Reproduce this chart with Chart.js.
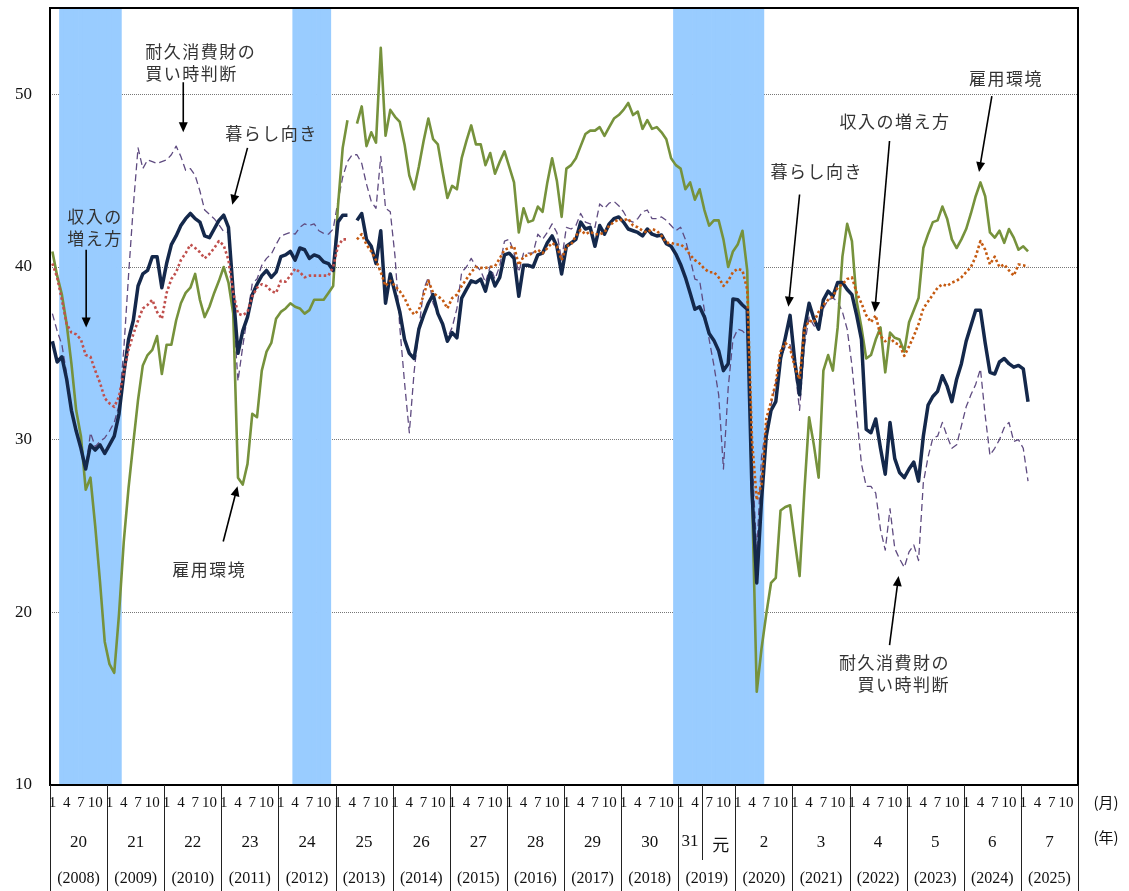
<!DOCTYPE html>
<html lang="ja">
<head>
<meta charset="utf-8">
<title>消費者意識指標の推移</title>
<script src="https://cdn.jsdelivr.net/npm/chart.js@4.4.1/dist/chart.umd.min.js"></script>
<style>
  html, body { margin: 0; padding: 0; background: #fff; }
  #wrap { width: 1129px; height: 891px; }
</style>
</head>
<body>
<div id="wrap"><canvas id="lineChart"></canvas></div>
<script>
// ---- data ----
const years = [2008, 2009, 2010, 2011, 2012, 2013, 2014, 2015, 2016, 2017, 2018, 2019, 2020, 2021, 2022, 2023, 2024, 2025];
const months = [];
years.forEach(y => { for (let m = 1; m <= 12; m++) months.push(y + '-' + m); });

// recession periods (shaded)
const recessions = [['2008-3', '2009-3'], ['2012-4', '2012-11'], ['2018-12', '2020-6']];

// 暮らし向き
const kurashi = [
  35.7, 34.5, 34.8, 33.5, 31.7, 30.5, 29.5, 28.3, 29.7, 29.4, 29.7, 29.2,
  29.7, 30.2, 31.5, 33.8, 35.8, 36.9, 38.9, 39.6, 39.8, 40.6, 40.6, 38.8,
  40.2, 41.3, 41.8, 42.4, 42.8, 43.1, 42.8, 42.6, 41.8, 41.7, 42.2, 42.7,
  43.0, 42.3, 38.5, 35.0, 36.3, 37.1, 38.4, 39.0, 39.5, 39.8, 39.4, 39.7,
  40.6, 40.7, 40.9, 40.4, 41.1, 41.0, 40.5, 40.7, 40.6, 40.3, 40.2, 39.8,
  42.6, 43.0, 43.0, null, 42.7, 43.1, 41.6, 41.2, 40.2, 42.1, 37.9, 39.6,
  38.5, 37.4, 35.8, 35.0, 34.7, 36.4, 37.2, 37.9, 38.4, 37.3, 36.7, 35.7,
  36.2, 35.9, 38.2, 38.7, 39.2, 39.1, 39.3, 38.6, 39.7, 38.9, 39.4, 40.7,
  40.8, 40.5, 38.3, 40.1, 40.1, 40.0, 40.7, 40.8, 41.4, 41.8, 41.2, 39.6,
  41.2, 41.4, 41.6, 42.6, 42.2, 42.3, 41.2, 42.4, 41.9, 42.5, 42.8, 42.9,
  42.6, 42.2, 42.1, 42.0, 41.8, 42.2, 41.9, 41.8, 41.85, 41.35, 41.2, 40.75,
  40.15, 39.4, 38.5, 37.55, 37.7, 37.1, 36.15, 35.75, 35.15, 34.0, 34.4, 38.15,
  38.1, 37.8, 37.55, 27.0, 21.7, 26.5, 30.2, 31.7, 32.2, 34.7, 35.9, 37.2,
  34.5, 32.6, 36.4, 37.9, 37.0, 36.4, 38.1, 38.6, 38.3, 39.1, 39.1, 38.7,
  38.4, 37.2, 35.8, 30.6, 30.4, 31.2, 29.5, 28.0, 31.0, 28.9, 28.1, 27.8,
  28.3, 28.7, 27.6, 30.2, 32.0, 32.5, 32.8, 33.7, 33.1, 32.2, 33.5, 34.4,
  35.7, 36.6, 37.5, 37.5, 35.6, 33.9, 33.8, 34.5, 34.7, 34.4, 34.2, 34.3,
  34.1, 32.2
];

// 収入の増え方
const shunyu = [
  40.2, 39.4, 38.1, 36.7, 36.2, 36.1, 35.8, 34.9, 34.8, 34.0, 33.3, 32.4,
  32.1, 31.9, 32.5, 33.9, 35.2, 36.1, 36.9, 37.6, 37.8, 38.1, 37.4, 37.0,
  38.5, 39.3, 39.7, 40.4, 40.8, 41.3, 41.1, 40.85, 40.5, 40.75, 41.1, 41.5,
  41.25, 40.4, 38.5, 37.3, 37.2, 37.4, 38.3, 38.8, 39.0, 38.9, 38.6, 38.5,
  39.2, 39.15, 39.5, 39.9, 39.7, 39.4, 39.5, 39.5, 39.5, 39.5, 39.5, 40.0,
  41.2, 41.6, 41.6, null, 41.6, 41.9, 41.3, 40.9, 40.4, 39.7, 38.9, 39.2,
  38.9, 38.6, 38.2, 37.6, 37.25, 37.5, 38.4, 39.2, 38.5, 38.3, 38.1, 37.6,
  38.2, 38.4, 38.9, 39.3, 39.7, 40.0, 39.95, 39.95, 40.0, 40.05, 40.5, 41.0,
  41.1, 41.2, 40.1, 40.6, 40.7, 40.8, 41.0, 40.8, 41.1, 41.4, 41.2, 40.4,
  41.2, 41.3, 41.8, 42.15, 41.9, 42.05, 41.9, 41.9, 42.0, 42.4, 42.6, 42.75,
  42.7, 42.8, 42.4, 42.3, 42.1, 42.0, 42.2, 42.1, 41.8, 41.4, 41.4, 41.3,
  41.3, 41.1, 40.7, 40.4, 40.2, 39.9, 39.7, 39.7, 39.4, 38.9, 39.2, 39.7,
  39.9, 39.8, 38.7, 30.0, 26.5, 27.4, 31.2, 32.2, 33.3, 35.1, 35.6, 35.3,
  34.2, 33.5, 36.4, 36.9, 36.8, 37.4, 37.8, 38.1, 38.3, 38.8, 39.0, 39.3,
  39.4, 38.5, 37.9, 37.2, 36.8, 37.2, 36.0, 35.7, 35.9, 35.6, 35.5, 34.85,
  35.4, 36.0, 36.7, 37.6, 38.0, 38.4, 38.8, 39.0, 38.9, 39.1, 39.2, 39.4,
  39.7, 40.0, 40.6, 41.5, 41.0, 40.15, 40.6, 40.0, 40.15, 39.8, 39.5, 40.15,
  40.1, 40.0
];

// 雇用環境
const koyou = [
  40.9, 39.5, 38.4, 36.7, 34.4, 31.7, 30.2, 27.1, 27.8, 25.0, 21.8, 18.3,
  17.0, 16.5, 19.9, 24.1, 27.2, 29.8, 32.3, 34.3, 34.9, 35.2, 36.0, 33.8,
  35.5, 35.5, 36.9, 37.9, 38.5, 38.8, 39.6, 38.1, 37.1, 37.7, 38.5, 39.2,
  40.0, 39.1, 37.3, 27.8, 27.4, 28.6, 31.5, 31.3, 34.0, 35.1, 35.6, 37.0,
  37.4, 37.6, 37.9, 37.7, 37.6, 37.3, 37.5, 38.1, 38.1, 38.1, 38.5, 38.9,
  43.5, 46.9, 48.5, null, 48.3, 49.3, 47.0, 47.8, 47.2, 52.7, 47.6, 49.1,
  48.7, 48.4, 47.1, 45.3, 44.5, 45.8, 47.3, 48.6, 47.4, 47.1, 45.5, 44.0,
  44.7, 44.5, 46.3, 47.3, 48.2, 47.1, 47.1, 45.9, 46.6, 45.4, 46.1, 46.7,
  45.8, 44.9, 42.0, 43.4, 42.6, 42.7, 43.5, 43.2, 44.9, 46.3, 45.0, 42.9,
  45.7, 45.9, 46.3, 47.0, 47.7, 47.9, 47.9, 48.1, 47.6, 48.1, 48.6, 48.8,
  49.1, 49.5, 48.8, 49.0, 48.0, 48.5, 48.0, 48.1, 47.8, 47.4, 46.3, 45.9,
  45.7, 44.5, 44.9, 43.9, 44.5, 43.3, 42.4, 42.7, 42.7, 41.6, 40.0, 40.9,
  41.3, 42.1, 39.8, 27.0, 15.4, 17.9, 19.9, 21.7, 22.0, 25.9, 26.1, 26.2,
  24.1, 22.1, 27.0, 31.3, 29.7, 27.8, 34.0, 34.9, 34.0, 36.5, 40.6, 42.5,
  41.5, 38.0, 36.5, 34.7, 34.9, 35.8, 36.5, 33.9, 36.2, 35.9, 35.8, 35.1,
  36.8, 37.5, 38.2, 41.1, 41.9, 42.6, 42.7, 43.5, 42.8, 41.6, 41.1, 41.6,
  42.2, 43.1, 44.1, 44.9, 44.1, 42.0, 41.7, 42.1, 41.4, 42.2, 41.7, 41.0,
  41.2, 40.9
];

// 耐久消費財の買い時判断
const taikyu = [
  37.3, 36.3, 35.5, 33.8, 31.8, 30.5, 29.5, 28.3, 30.4, 29.6, 29.9, 30.1,
  30.5, 31.0, 32.0, 35.2, 39.5, 43.5, 46.9, 45.7, 46.2, 46.1, 46.0, 46.1,
  46.2, 46.5, 47.0, 46.4, 45.6, 45.7, 45.3, 44.4, 43.3, 43.05, 42.8, 42.45,
  42.05, 42.0, 37.5, 33.4, 35.4, 37.2, 39.05, 39.3, 40.1, 40.5, 40.75, 41.3,
  41.8, 41.9, 42.0, 41.9, 42.3, 42.5, 42.4, 42.5, 42.1, 41.95, 41.9, 42.2,
  43.8, 45.2, 46.1, 46.5, 46.5, 46.0, 44.8, 43.8, 43.4, 46.4, 43.4, 43.2,
  40.6, 36.5, 33.3, 30.4, 33.9, 36.4, 38.7, 39.4, 37.9, 37.3, 36.7, 35.9,
  36.5, 37.6, 39.7, 40.0, 40.5, 40.05, 39.8, 39.1, 40.05, 39.3, 40.05, 41.5,
  41.6, 40.8, 39.7, 40.8, 40.8, 40.8, 41.9, 41.6, 42.0, 42.5, 42.0, 40.4,
  42.3, 42.2, 42.4, 43.1, 42.6, 42.5, 42.3, 43.65, 43.4, 43.7, 43.8, 43.55,
  43.2, 42.7, 42.6, 42.8, 43.2, 43.3, 42.8, 42.8, 42.9, 42.7, 42.4, 42.1,
  42.3, 41.6, 40.5, 39.3, 39.2, 37.5, 35.8, 34.3, 32.6, 28.3, 33.0, 35.8,
  36.4, 36.3, 36.0, 29.0, 23.5, 29.0, 30.8, 32.0, 33.3, 34.7, 35.4, 35.5,
  34.2, 31.7, 35.4, 37.1, 36.6, 36.4, 37.6, 38.1, 38.2, 38.0, 37.4, 36.4,
  34.3, 31.4, 28.6, 27.3, 27.3, 26.9, 24.8, 23.6, 26.0, 23.7, 23.1, 22.6,
  23.5, 23.9, 23.0, 27.5, 29.0, 30.1, 30.2, 31.0, 30.2, 29.5, 29.7, 30.8,
  31.9, 32.6, 33.2, 34.1, 31.4, 29.1, 29.5, 30.0, 30.7, 31.0, 29.9, 30.0,
  29.5, 27.6
];

// axis ticks
const yTicks = [10, 20, 30, 40, 50];
const yMin = 10, yMax = 55;
const monthTicks = ['1', '4', '7', '10'];
const eraYears = ['20', '21', '22', '23', '24', '25', '26', '27', '28', '29', '30', '31', '2', '3', '4', '5', '6', '7'];
const reiwaStart = '2019-5';   // 元 starts here

// labels on the chart: [lines], anchor [month index, value], arrow [[from], [to]]
const notes = [
  { text: ['耐久消費財の', '買い時判断'], at: [19.5, 52.5], align: 'left',  arrow: [[27.5, 50.7], [27.5, 47.8]] },
  { text: ['暮らし向き'],                at: [36.3, 47.7], align: 'left',  arrow: [[41.0, 46.9], [37.8, 43.6]] },
  { text: ['収入の', '増え方'],           at: [3.1, 42.9],  align: 'left',  arrow: [[7.1, 41.0], [7.1, 36.5]] },
  { text: ['雇用環境'],                  at: [25.2, 22.5], align: 'left',  arrow: [[35.9, 24.1], [38.9, 27.3]] },
  { text: ['暮らし向き'],                at: [150.9, 45.5], align: 'left', arrow: [[157.0, 44.2], [154.65, 37.7]] },
  { text: ['収入の増え方'],               at: [165.4, 48.4], align: 'left', arrow: [[175.9, 47.3], [172.8, 37.4]] },
  { text: ['雇用環境'],                  at: [192.6, 50.9], align: 'left', arrow: [[197.4, 49.9], [194.7, 45.5]] },
  { text: ['耐久消費財の', '買い時判断'], at: [188.6, 17.1], align: 'right', arrow: [[175.9, 18.1], [177.8, 22.1]] }
];

// ---- derived ----
const breakIdx = months.indexOf('2013-4');
const bandData = months.map((m, i) =>
  recessions.some(r => i >= months.indexOf(r[0]) && i <= months.indexOf(r[1])) ? yMax : null);

const SERIF = '"Liberation Serif", "DejaVu Serif", serif';
const JP = '"Noto Sans CJK JP", "Noto Sans", sans-serif';

function drawArrow(ctx, x1, y1, x2, y2) {
  const a = Math.atan2(y2 - y1, x2 - x1);
  const len = 10, w = 4.5;
  ctx.beginPath();
  ctx.moveTo(x1, y1);
  ctx.lineTo(x2 - Math.cos(a) * len * 0.8, y2 - Math.sin(a) * len * 0.8);
  ctx.stroke();
  ctx.beginPath();
  ctx.moveTo(x2, y2);
  ctx.lineTo(x2 - Math.cos(a) * len + Math.sin(a) * w, y2 - Math.sin(a) * len - Math.cos(a) * w);
  ctx.lineTo(x2 - Math.cos(a) * len - Math.sin(a) * w, y2 - Math.sin(a) * len + Math.cos(a) * w);
  ctx.closePath();
  ctx.fill();
}

// frame + on-chart labels
const notesPlugin = {
  id: 'notes',
  afterDatasetsDraw(chart) {
    const { ctx, chartArea: a, scales: { x, y } } = chart;
    ctx.save();
    ctx.strokeStyle = '#000';
    ctx.lineWidth = 2;
    ctx.strokeRect(a.left, a.top, a.right - a.left, a.bottom - a.top);

    ctx.font = '17px ' + JP;
    ctx.letterSpacing = '1.5px';
    ctx.fillStyle = '#333';
    ctx.textBaseline = 'middle';
    ctx.lineWidth = 1.6;
    notes.forEach(n => {
      ctx.textAlign = n.align;
      const px = x.getPixelForValue(n.at[0]);
      const py = y.getPixelForValue(n.at[1]);
      n.text.forEach((t, k) => ctx.fillText(t, px, py + k * 22));
      ctx.fillStyle = '#000';
      drawArrow(ctx,
        x.getPixelForValue(n.arrow[0][0]), y.getPixelForValue(n.arrow[0][1]),
        x.getPixelForValue(n.arrow[1][0]), y.getPixelForValue(n.arrow[1][1]));
      ctx.fillStyle = '#333';
    });
    ctx.restore();
  }
};

// month / year table under the plot
const tablePlugin = {
  id: 'yearTable',
  afterDraw(chart) {
    const { ctx, chartArea: a, scales: { x } } = chart;
    const cw = x.getPixelForValue(1) - x.getPixelForValue(0);
    const H = chart.height;
    ctx.save();
    ctx.strokeStyle = '#222';
    ctx.lineWidth = 1;
    ctx.fillStyle = '#111';
    ctx.textAlign = 'center';
    ctx.textBaseline = 'middle';
    const vline = (px, y1, y2) => {
      ctx.beginPath();
      ctx.moveTo(Math.round(px) + 0.5, y1);
      ctx.lineTo(Math.round(px) + 0.5, y2);
      ctx.stroke();
    };
    years.forEach((yr, k) => {
      const x0 = x.getPixelForValue(k * 12) - cw / 2;
      const x1 = x0 + cw * 12;
      vline(x0, a.bottom, H);
      ctx.font = '15px ' + SERIF;
      monthTicks.forEach((t, j) => ctx.fillText(t, x.getPixelForValue(k * 12 + j * 3), a.bottom + 18));
      if (yr === 2019) {
        const xr = x.getPixelForValue(months.indexOf(reiwaStart)) + cw / 2;
        vline(xr, a.bottom, a.bottom + 75);
        ctx.font = '17px ' + SERIF;
        ctx.fillText(eraYears[k], (x0 + xr) / 2, a.bottom + 57);
        ctx.font = '17px ' + JP;
        ctx.fillText('元', (xr + x1) / 2 + 2, a.bottom + 60);
      } else {
        ctx.font = '17px ' + SERIF;
        ctx.fillText(eraYears[k], (x0 + x1) / 2, a.bottom + 58);
      }
      ctx.font = '16px ' + SERIF;
      ctx.fillText('(' + yr + ')', (x0 + x1) / 2, a.bottom + 94);
    });
    vline(x.getPixelForValue(months.length - 1) + cw / 2, a.bottom, H);
    ctx.font = '15px ' + JP;
    ctx.fillText('(月)', a.right + 28, a.bottom + 17);
    ctx.fillText('(年)', a.right + 28, a.bottom + 52);
    ctx.restore();
  }
};

const ctx = document.getElementById('lineChart');

new Chart(ctx, {
  type: 'line',
  data: {
    labels: months,
    datasets: [
      {
        label: '収入の増え方',
        data: shunyu,
        borderColor: '#C55A11',
        segment: { borderColor: c => c.p0DataIndex < breakIdx ? '#C0504D' : '#C55A11' },
        borderWidth: 2.6,
        borderDash: [2.5, 2.5],
        order: 1
      },
      {
        label: '暮らし向き',
        data: kurashi,
        borderColor: '#14284B',
        borderWidth: 3.5,
        order: 2
      },
      {
        label: '雇用環境',
        data: koyou,
        borderColor: '#76923C',
        borderWidth: 2.6,
        order: 3
      },
      {
        label: '耐久消費財の買い時判断',
        data: taikyu,
        borderColor: '#5F4B80',
        borderWidth: 1.3,
        borderDash: [7, 4],
        order: 4
      },
      {
        type: 'bar',
        label: '景気後退期',
        data: bandData,
        backgroundColor: '#99CCFF',
        barPercentage: 1,
        categoryPercentage: 1,
        order: 10
      }
    ]
  },
  options: {
    responsive: true,
    maintainAspectRatio: false,
    animation: false,
    events: [],
    elements: {
      point: { radius: 0 },
      line: { tension: 0, borderJoinStyle: 'round' }
    },
    layout: { padding: { left: 0, right: 51, top: 8, bottom: 0 } },
    plugins: {
      legend: { display: false },
      tooltip: { enabled: false }
    },
    scales: {
      x: {
        offset: true,
        grid: { display: false },
        border: { display: false },
        ticks: { display: false },
        afterFit: s => { s.height = 106; s.paddingLeft = 0; s.paddingRight = 0; }
      },
      y: {
        min: yMin,
        max: yMax,
        afterBuildTicks: s => { s.ticks = yTicks.map(v => ({ value: v })); },
        afterFit: s => { s.width = 50; s.paddingTop = 0; s.paddingBottom = 0; },
        ticks: {
          color: '#111',
          padding: 18,
          font: { family: SERIF, size: 17 }
        },
        grid: {
          color: '#777',
          lineWidth: 1,
          drawTicks: false
        },
        border: { display: false, dash: [1, 1] }
      }
    }
  },
  plugins: [notesPlugin, tablePlugin]
});
</script>
</body>
</html>
